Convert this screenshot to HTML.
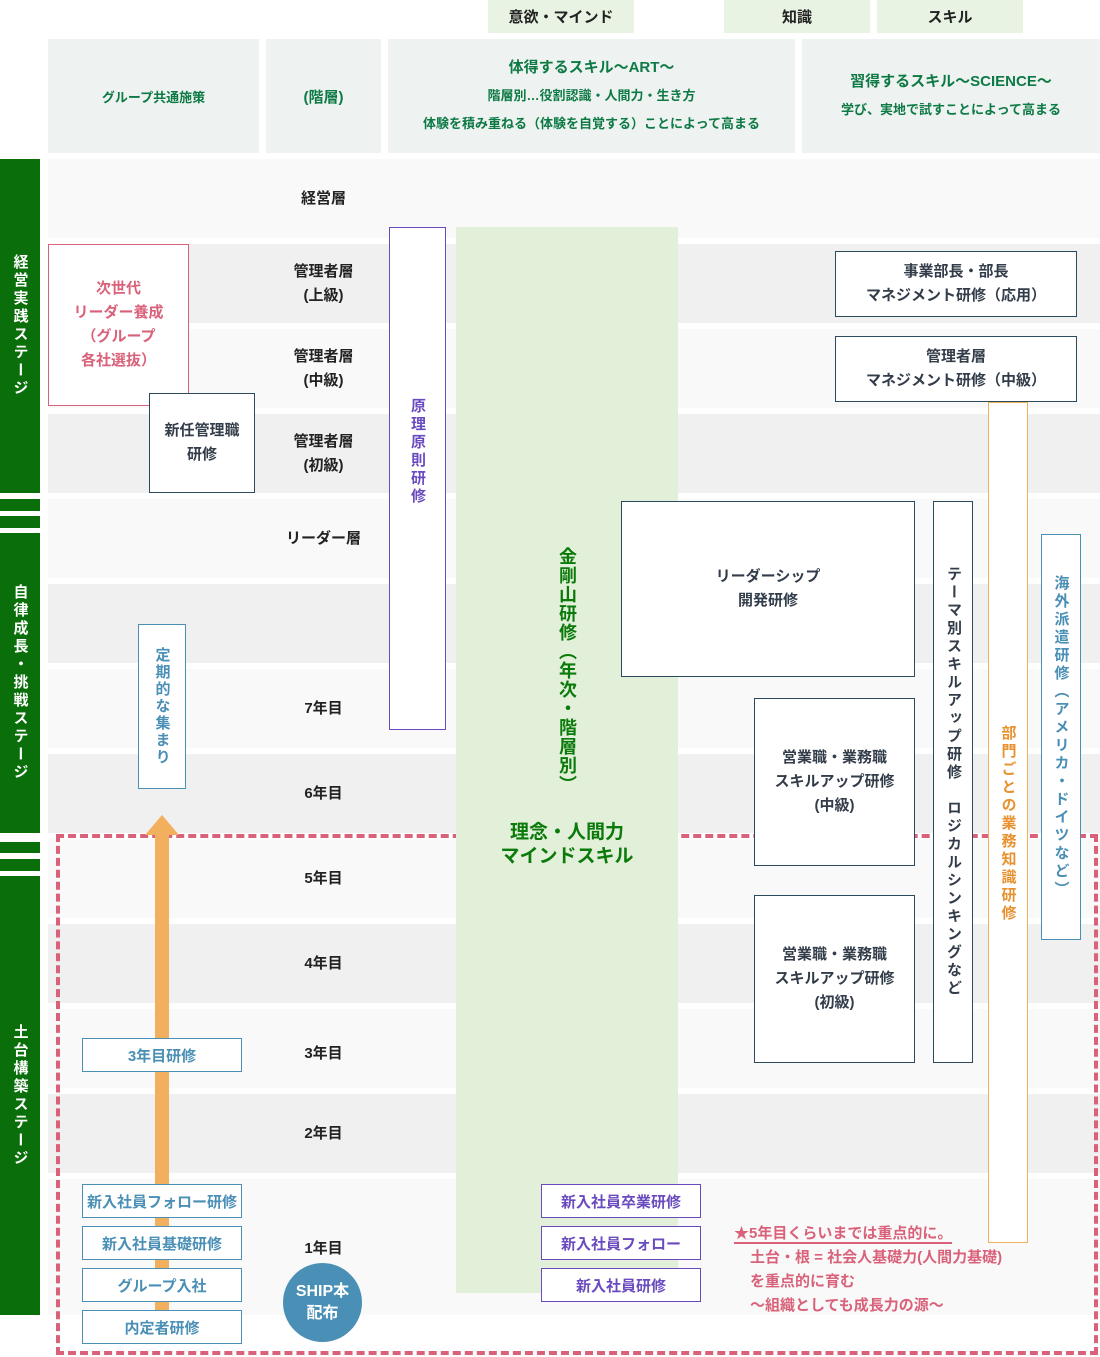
<!DOCTYPE html>
<html><head><meta charset="utf-8">
<style>
*{margin:0;padding:0;box-sizing:border-box}
body{width:1100px;height:1357px;position:relative;background:#fff;font-family:"Liberation Sans","Noto Sans CJK JP",sans-serif;font-weight:bold;overflow:hidden}
.a{position:absolute}
.c{display:flex;align-items:center;justify-content:center;text-align:center;flex-direction:column}
.row{position:absolute;left:48px;width:1052px}
.lab{position:absolute;left:266px;width:115px;font-size:15px;color:#222;line-height:24px}
.v{writing-mode:vertical-rl;text-orientation:upright;letter-spacing:2px}
.hd{background:#eef2f0;color:#0d7a45;font-size:14px}
.tag{background:#e8f3e3;color:#222;font-size:15px;height:33px;top:0}
.bl{border:1px solid #4a8fb6;background:#fff;color:#4a8fb6;font-size:15px}
.pu{border:1px solid #6a4bbf;background:#fff;color:#6a4bbf;font-size:15px}
.dk{border:1px solid #2c4a5e;background:#fff;color:#333d4a;font-size:15px;line-height:24px}
.st{background:#0a6e0a;left:0;width:40px;color:#fff;font-size:15px}
.st .v{letter-spacing:3px}
</style></head><body>
<div class="a c tag" style="left:488px;width:146px">意欲・マインド</div>
<div class="a c tag" style="left:724px;width:146px">知識</div>
<div class="a c tag" style="left:877px;width:146px">スキル</div>
<div class="a c hd" style="left:48px;top:39px;width:211px;height:114px;font-size:13px">グループ共通施策</div>
<div class="a c hd" style="left:266px;top:39px;width:115px;height:114px;font-size:15px">(階層)</div>
<div class="a c hd" style="left:388px;top:39px;width:407px;height:114px;line-height:28px"><div style="font-size:15px">体得するスキル～ART～</div><div style="font-size:13px">階層別…役割認識・人間力・生き方</div><div style="font-size:13px">体験を積み重ねる（体験を自覚する）ことによって高まる</div></div>
<div class="a c hd" style="left:802px;top:39px;width:298px;height:114px;line-height:28px"><div style="font-size:15px">習得するスキル～SCIENCE～</div><div style="font-size:13px">学び、実地で試すことによって高まる</div></div>

<div class="row" style="top:159px;height:79px;background:#f9f9f9"></div>
<div class="row" style="top:244px;height:79px;background:#f0f0f0"></div>
<div class="row" style="top:329px;height:79px;background:#f9f9f9"></div>
<div class="row" style="top:414px;height:79px;background:#f0f0f0"></div>
<div class="row" style="top:499px;height:79px;background:#f9f9f9"></div>
<div class="row" style="top:584px;height:79px;background:#f0f0f0"></div>
<div class="row" style="top:669px;height:79px;background:#f9f9f9"></div>
<div class="row" style="top:754px;height:79px;background:#f0f0f0"></div>
<div class="row" style="top:839px;height:79px;background:#f9f9f9"></div>
<div class="row" style="top:924px;height:79px;background:#f0f0f0"></div>
<div class="row" style="top:1009px;height:79px;background:#f9f9f9"></div>
<div class="row" style="top:1094px;height:79px;background:#f0f0f0"></div>
<div class="row" style="top:1179px;height:136px;background:#f9f9f9"></div>

<div class="lab c" style="top:159px;height:79px">経営層</div>
<div class="lab c" style="top:244px;height:79px">管理者層<br>(上級)</div>
<div class="lab c" style="top:329px;height:79px">管理者層<br>(中級)</div>
<div class="lab c" style="top:414px;height:79px">管理者層<br>(初級)</div>
<div class="lab c" style="top:499px;height:79px">リーダー層</div>
<div class="lab c" style="top:669px;height:79px">7年目</div>
<div class="lab c" style="top:754px;height:79px">6年目</div>
<div class="lab c" style="top:839px;height:79px">5年目</div>
<div class="lab c" style="top:924px;height:79px">4年目</div>
<div class="lab c" style="top:1019px;height:70px">3年目</div>
<div class="lab c" style="top:1094px;height:79px">2年目</div>
<div class="lab c" style="top:1209px;height:79px">1年目</div>

<div class="a st c" style="top:159px;height:334px"><span class="v">経営実践ステージ</span></div>
<div class="a st" style="top:499px;height:12px"></div>
<div class="a st" style="top:516px;height:12px"></div>
<div class="a st c" style="top:533px;height:300px"><span class="v">自律成長・挑戦ステージ</span></div>
<div class="a st" style="top:842px;height:11px"></div>
<div class="a st" style="top:859px;height:12px"></div>
<div class="a st c" style="top:876px;height:439px"><span class="v">土台構築ステージ</span></div>

<div class="a" style="left:456px;top:227px;width:222px;height:1066px;background:#e2efd9"></div>
<div class="a" style="left:56px;top:834px;width:1042px;height:521px;border:4px dashed #d9627a"></div>
<div class="a" style="left:456px;top:830px;width:222px;height:10px;background:#e2efd9"></div>
<div class="a c" style="left:456px;top:520px;width:222px;height:300px;color:#0a7a0a;font-size:18px"><span class="v" style="letter-spacing:1px">金剛山研修（年次・階層別）</span></div>
<div class="a c" style="left:456px;top:820px;width:222px;height:50px;color:#0a7a0a;font-size:19px;line-height:24px">理念・人間力<br>マインドスキル</div>

<div class="a c" style="left:48px;top:244px;width:141px;height:162px;border:1px solid #d9627a;background:#fff;color:#d9627a;font-size:15px;line-height:24px">次世代<br>リーダー養成<br>（グループ<br>各社選抜）</div>
<div class="a c dk" style="left:149px;top:393px;width:106px;height:100px">新任管理職<br>研修</div>
<div class="a c pu" style="left:389px;top:227px;width:57px;height:503px;justify-content:flex-start;padding-top:170px"><span class="v" style="font-size:15px;letter-spacing:3px">原理原則研修</span></div>
<div class="a c bl" style="left:138px;top:624px;width:48px;height:165px"><span class="v" style="font-size:15px">定期的な集まり</span></div>

<div class="a" style="left:155px;top:834px;width:14px;height:476px;background:#f2b05e"></div>
<div class="a" style="left:145px;top:815px;width:0;height:0;border-left:17px solid transparent;border-right:17px solid transparent;border-bottom:20px solid #f2b05e"></div>

<div class="a c bl" style="left:82px;top:1038px;width:160px;height:34px">3年目研修</div>
<div class="a c bl" style="left:82px;top:1184px;width:160px;height:34px">新入社員フォロー研修</div>
<div class="a c bl" style="left:82px;top:1226px;width:160px;height:34px">新入社員基礎研修</div>
<div class="a c bl" style="left:82px;top:1268px;width:160px;height:34px">グループ入社</div>
<div class="a c bl" style="left:82px;top:1310px;width:160px;height:34px">内定者研修</div>
<div class="a c" style="left:283px;top:1263px;width:79px;height:79px;border-radius:50%;background:#4a8fb6;color:#fff;font-size:16px;line-height:22px">SHIP本<br>配布</div>

<div class="a c pu" style="left:541px;top:1184px;width:160px;height:34px">新入社員卒業研修</div>
<div class="a c pu" style="left:541px;top:1226px;width:160px;height:34px">新入社員フォロー</div>
<div class="a c pu" style="left:541px;top:1268px;width:160px;height:34px">新入社員研修</div>

<div class="a c dk" style="left:835px;top:251px;width:242px;height:66px">事業部長・部長<br>マネジメント研修（応用）</div>
<div class="a c dk" style="left:835px;top:336px;width:242px;height:66px">管理者層<br>マネジメント研修（中級）</div>
<div class="a c dk" style="left:621px;top:501px;width:294px;height:176px">リーダーシップ<br>開発研修</div>
<div class="a c dk" style="left:754px;top:698px;width:161px;height:168px">営業職・業務職<br>スキルアップ研修<br>(中級)</div>
<div class="a c dk" style="left:754px;top:895px;width:161px;height:168px">営業職・業務職<br>スキルアップ研修<br>(初級)</div>
<div class="a dk" style="left:933px;top:501px;width:40px;height:562px;display:flex;justify-content:center;padding-top:64px"><span class="v" style="font-size:15px;letter-spacing:3px">テーマ別スキルアップ研修　ロジカルシンキングなど</span></div>
<div class="a c" style="left:988px;top:402px;width:40px;height:841px;border:1px solid #f2b05e;background:#fff;color:#e8912e;font-size:15px;justify-content:flex-start;padding-top:322px"><span class="v" style="letter-spacing:3px">部門ごとの業務知識研修</span></div>
<div class="a c bl" style="left:1041px;top:534px;width:40px;height:406px"><span class="v" style="letter-spacing:3px">海外派遣研修（アメリカ・ドイツなど）</span></div>

<div class="a" style="left:734px;top:1222px;color:#d9627a;font-size:15px;line-height:24px"><span style="border-bottom:2px solid #d9627a">★5年目くらいまでは重点的に。</span><br><span style="padding-left:16px">土台・根 = 社会人基礎力(人間力基礎)</span><br><span style="padding-left:16px">を重点的に育む</span><br><span style="padding-left:16px">～組織としても成長力の源～</span></div>
</body></html>
